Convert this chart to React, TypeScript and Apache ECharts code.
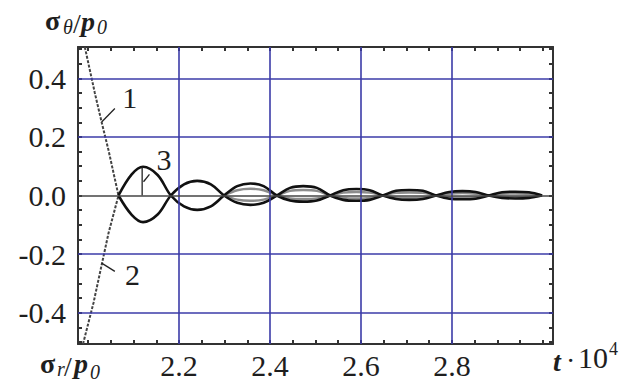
import React, { useEffect, useRef } from "react";
import * as echarts from "echarts";

// axis ranges
const xMin = 1.978;
const xMax = 3.022;
const yMin = -0.507;
const yMax = 0.507;

// tick labels / grid lines
const xLabelValues = [2.2, 2.4, 2.6, 2.8];
const yLabelValues = [-0.4, -0.2, 0.0, 0.2, 0.4];
const xGridValues = [2.2, 2.4, 2.6, 2.8];
const yGridValues = [-0.4, -0.2, 0.2, 0.4];
const xMinorTicks = [2.0, 2.05, 2.1, 2.15, 2.2, 2.25, 2.3, 2.35, 2.4, 2.45, 2.5, 2.55, 2.6, 2.65, 2.7, 2.75, 2.8, 2.85, 2.9, 2.95, 3.0];
const yMinorTicks = [-0.5, -0.45, -0.4, -0.35, -0.3, -0.25, -0.2, -0.15, -0.1, -0.05, 0, 0.05, 0.1, 0.15, 0.2, 0.25, 0.3, 0.35, 0.4, 0.45, 0.5];

// curve 1 and curve 2 (dashed initial parts)
const curve1 = [[1.993, 0.507], [2.015, 0.35], [2.03, 0.25], [2.045, 0.155], [2.067, 0]];
const curve2 = [[1.989, -0.507], [2.012, -0.367], [2.03, -0.237], [2.045, -0.129], [2.067, 0]];

// oscillating solid curves
const oscX = [2.067, 2.096, 2.121, 2.153, 2.182, 2.211, 2.24, 2.27, 2.299, 2.328, 2.357, 2.386, 2.415, 2.444, 2.473, 2.503, 2.532, 2.561, 2.59, 2.619, 2.648, 2.677, 2.706, 2.736, 2.765, 2.794, 2.823, 2.852, 2.881, 2.91, 2.939, 2.969, 2.998];
const oscA = [0, 0.072, 0.098, 0.07, 0, -0.037, -0.049, -0.037, 0, 0.032, 0.041, 0.032, 0, -0.017, -0.021, -0.017, 0, 0.018, 0.022, 0.018, 0, -0.012, -0.015, -0.012, 0, 0.012, 0.015, 0.012, 0, -0.008, -0.01, -0.008, 0];
const oscB = [0, -0.066, -0.091, -0.065, 0, 0.038, 0.05, 0.038, 0, -0.025, -0.032, -0.025, 0, 0.026, 0.032, 0.026, 0, -0.015, -0.018, -0.015, 0, 0.016, 0.019, 0.016, 0, -0.011, -0.013, -0.011, 0, 0.011, 0.013, 0.011, 0];

// inner (gray) curves inside later lobes
const innerX = [2.299, 2.328, 2.357, 2.386, 2.415, 2.444, 2.473, 2.503, 2.532, 2.561, 2.59, 2.619, 2.648, 2.677, 2.706, 2.736, 2.765, 2.794, 2.823, 2.852, 2.881, 2.91, 2.939, 2.969, 2.998];
const innerC = [0, 0.018, 0.023, 0.018, 0, -0.01, -0.012, -0.01, 0, 0.01, 0.012, 0.01, 0, -0.007, -0.008, -0.007, 0, 0.006, 0.008, 0.006, 0, -0.004, -0.005, -0.004, 0];
const innerD = [0, -0.014, -0.018, -0.014, 0, 0.016, 0.019, 0.016, 0, -0.008, -0.01, -0.008, 0, 0.009, 0.01, 0.009, 0, -0.006, -0.007, -0.006, 0, 0.006, 0.007, 0.006, 0];

// curve labels and leader lines
const curveLabels = [
  { name: "1", x: 2.092, y: 0.335 },
  { name: "3", x: 2.167, y: 0.124 },
  { name: "2", x: 2.098, y: -0.271 },
];
const leaders = [
  [[2.03, 0.251], [2.059, 0.297]],
  [[2.03, -0.231], [2.059, -0.259]],
  [[2.122, 0.047], [2.135, 0.072]],
  [[2.119, 0], [2.119, 0.098]],
];

const FONT = "Liberation Serif, serif";
const TEXT = "#1e1e1e";
const FRAME = "#333";
const GRID = "#3b3ba8";

function zip(xs: number[], ys: number[]) {
  return xs.map((x, i) => [x, ys[i]]);
}

export default function App() {
  const ref = useRef<HTMLDivElement>(null);
  useEffect(() => {
    if (!ref.current) return;
    const chart = echarts.init(ref.current, undefined, { renderer: "svg" });

    const axisLineCfg = { show: true, onZero: false, lineStyle: { color: FRAME, width: 2 } };
    const tickCfg = (vals: number[]) => ({
      show: true,
      inside: true,
      length: 4,
      customValues: vals,
      lineStyle: { color: FRAME, width: 2 },
    });
    const labelCfg = (vals: number[], margin: number) => ({
      show: true,
      customValues: vals,
      formatter: (v: number) => Number(v).toFixed(1),
      fontFamily: FONT,
      fontSize: 30,
      fontWeight: "normal",
      color: TEXT,
      margin,
    });

    const text = (t: string, x: number, y: number, size: number, weight: string, style: string) => ({
      type: "text",
      x,
      y,
      silent: true,
      style: {
        text: t,
        fontFamily: FONT,
        fontSize: size,
        fontWeight: weight,
        fontStyle: style,
        fill: TEXT,
        verticalAlign: "middle",
        align: "left",
      },
    });

    chart.setOption({
      animation: false,
      backgroundColor: "#ffffff",
      textStyle: { fontFamily: FONT },
      grid: { left: 78, right: 66, top: 47, bottom: 44, containLabel: false, outerBoundsMode: "none" },
      xAxis: [
        {
          type: "value",
          min: xMin,
          max: xMax,
          position: "bottom",
          axisLine: axisLineCfg,
          axisTick: tickCfg(xMinorTicks),
          axisLabel: labelCfg(xLabelValues, 6),
          splitLine: { show: false },
        },
        {
          type: "value",
          min: xMin,
          max: xMax,
          position: "top",
          axisLine: axisLineCfg,
          axisTick: tickCfg(xMinorTicks),
          axisLabel: { show: false },
          splitLine: { show: false },
        },
      ],
      yAxis: [
        {
          type: "value",
          min: yMin,
          max: yMax,
          position: "left",
          axisLine: axisLineCfg,
          axisTick: tickCfg(yMinorTicks),
          axisLabel: labelCfg(yLabelValues, 12),
          splitLine: { show: false },
        },
        {
          type: "value",
          min: yMin,
          max: yMax,
          position: "right",
          axisLine: axisLineCfg,
          axisTick: tickCfg(yMinorTicks),
          axisLabel: { show: false },
          splitLine: { show: false },
        },
      ],
      series: [
        {
          type: "line",
          z: 1,
          data: [],
          silent: true,
          markLine: {
            silent: true,
            symbol: ["none", "none"],
            label: { show: false },
            lineStyle: { color: GRID, width: 1.6, type: "solid" },
            data: [
              ...xGridValues.map((v) => ({ xAxis: v })),
              ...yGridValues.map((v) => ({ yAxis: v })),
              { yAxis: 0, lineStyle: { color: "#444", width: 1.6, type: "solid" } },
            ],
          },
        },
        {
          type: "line",
          name: "1",
          z: 3,
          data: curve1,
          symbol: "none",
          lineStyle: { color: "#444", width: 2, type: [3, 1.5] },
        },
        {
          type: "line",
          name: "2",
          z: 3,
          data: curve2,
          symbol: "none",
          lineStyle: { color: "#444", width: 2, type: [3, 1.5] },
        },
        {
          type: "line",
          z: 3,
          data: zip(innerX, innerC),
          symbol: "none",
          smooth: 0.35,
          lineStyle: { color: "#8c8c8c", width: 2.4 },
        },
        {
          type: "line",
          z: 3,
          data: zip(innerX, innerD),
          symbol: "none",
          smooth: 0.35,
          lineStyle: { color: "#8c8c8c", width: 2.4 },
        },
        {
          type: "line",
          z: 4,
          data: zip(oscX, oscA),
          symbol: "none",
          smooth: 0.35,
          lineStyle: { color: "#111", width: 2.6 },
        },
        {
          type: "line",
          z: 4,
          data: zip(oscX, oscB),
          symbol: "none",
          smooth: 0.35,
          lineStyle: { color: "#111", width: 2.6 },
        },
        ...leaders.map((seg) => ({
          type: "line",
          z: 4,
          data: seg,
          symbol: "none",
          lineStyle: { color: "#222", width: 1.3 },
        })),
        {
          type: "scatter",
          z: 5,
          symbolSize: 1,
          itemStyle: { opacity: 0 },
          data: curveLabels.map((l) => ({ name: l.name, value: [l.x, l.y] })),
          label: {
            show: true,
            position: "inside",
            formatter: "{b}",
            fontFamily: FONT,
            fontSize: 30,
            color: TEXT,
            opacity: 1,
            textBorderWidth: 0,
          },
        },
      ],
      graphic: [
        // σθ/p0 (top left)
        text("σ", 45, 20, 28, "bold", "normal"),
        text("θ", 63, 27, 20, "normal", "italic"),
        text("/", 73, 23, 28, "normal", "normal"),
        text("p", 81, 21, 28, "bold", "italic"),
        text("0", 97, 27, 20, "normal", "italic"),
        // σr/p0 (bottom left)
        text("σ", 40, 363, 28, "bold", "normal"),
        text("r", 57, 369, 20, "normal", "italic"),
        text("/", 64, 366, 28, "normal", "normal"),
        text("p", 74, 363, 28, "bold", "italic"),
        text("0", 90, 372, 20, "normal", "italic"),
        // t·10^4 (bottom right)
        text("t", 553, 361, 28, "bold", "italic"),
        text("·", 566, 360, 28, "normal", "normal"),
        text("10", 578, 357, 30, "normal", "normal"),
        text("4", 609, 349, 18, "normal", "normal"),
      ],
    });

    return () => {
      chart.dispose();
    };
  }, []);

  return (
    <div
      ref={ref}
      style={{ position: "fixed", left: 0, top: 0, width: 619, height: 388, background: "#fff" }}
    />
  );
}
